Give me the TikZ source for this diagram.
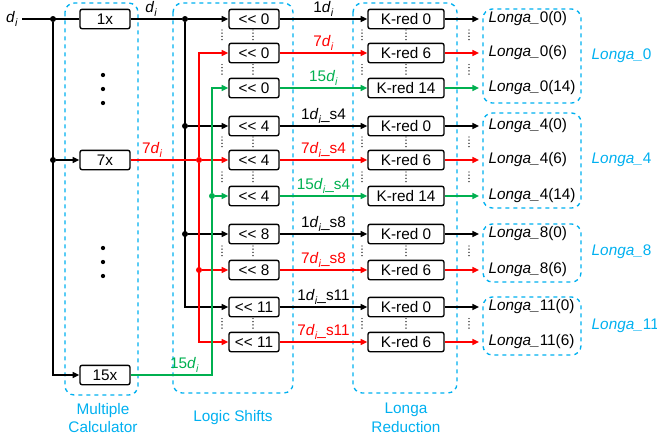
\documentclass[tikz,border=0pt]{standalone}
\usepackage{fontspec}
\setmainfont{Liberation Sans}
\usetikzlibrary{arrows.meta}
\definecolor{grpblue}{HTML}{00B0F0}
\definecolor{grn}{HTML}{00B050}
\newcommand{\di}{\textit{d}\raisebox{-0.5ex}{\fontsize{8}{9}\selectfont\textit{i}}}
\newcommand{\longa}[1]{\textit{Longa\_}#1}

\begin{document}
\begin{tikzpicture}[x=0.75pt,y=-0.75pt,font=\fontsize{11.5}{14}\selectfont,
  wire/.style={line width=1.1pt},
  arr/.style={wire,-{Triangle[length=5pt,width=4.5pt]}},
  mbox/.style={draw,line width=1pt,rounded corners=1.5pt,minimum width=37.5pt,minimum height=14.5pt,inner sep=0pt},
  sbox/.style={mbox},
  kbox/.style={mbox,minimum width=57pt},
  dot/.style={circle,fill,inner sep=0pt,minimum size=4.5pt},
  grp/.style={draw=grpblue,dashed,line width=1pt,rounded corners=7pt},
  grplbl/.style={text=grpblue,align=center},
  outtxt/.style={anchor=west,inner sep=1pt},
  vdot/.style={line width=1.1pt,line cap=round,dash pattern=on 0pt off 2.4pt}]
\useasboundingbox (0,0) rectangle (657,440);

% group frames
\draw[grp] (65,3) rectangle (138,395);
\draw[grp] (173,3) rectangle (293,393);
\draw[grp] (353,3) rectangle (457,393);
\draw[grp] (483,9) rectangle (581,103);
\draw[grp] (483,113) rectangle (581,208);
\draw[grp] (483,224) rectangle (581,282);
\draw[grp] (483,297) rectangle (581,355);
\node[grplbl] (lblmc) at (103,418) {Multiple\\Calculator};
\node[grplbl] (lblls) at (233,418) {Logic Shifts};
\node[grplbl] (lbllr) at (406,418) {Longa\\Reduction};
\node[grplbl,anchor=west] (lbl0) at (587,56) {\longa{0}};
\node[grplbl,anchor=west] (lbl4) at (587,160) {\longa{4}};
\node[grplbl,anchor=west] (lbl8) at (587,252) {\longa{8}};
\node[grplbl,anchor=west] (lbl11) at (587,326) {\longa{11}};

% multiple calculator
\node (din) at (12,19) {\di};
\node[mbox] (m1) at (105,19) {1x};
\node[mbox] (m7) at (105,160) {7x};
\node[mbox] (m15) at (105,375) {15x};
\foreach \yy in {75,89,103,248,262,276} \fill (103,\yy) circle (1.6pt);
\node[dot] (i1) at (53,19) {};
\node[dot] (i2) at (53,160) {};
\draw[wire] (din) -- (m1);
\draw[arr] (i2) -- (m7);
\draw[arr] (i1) |- (m15);

% shift, reduction and outputs
\foreach \nm/\yy/\sh/\kr/\col/\mul/\grp in {a0/19/0/0/black/1/0, a6/53/0/6/red/7/0, a14/88/0/14/grn/15/0,
    b0/126/4/0/black/1/4, b6/160/4/6/red/7/4, b14/196/4/14/grn/15/4,
    c0/234/8/0/black/1/8, c6/270/8/6/red/7/8, d0/307/11/0/black/1/11, d6/342/11/6/red/7/11}{
  \node[sbox] (sh\nm) at (254,\yy) {{<}{<} \sh};
  \node[kbox] (kr\nm) at (406,\yy) {K-red \kr};
  \node[outtxt] (out\nm) at (487,\yy) {\longa{\grp}(\kr)};
  \draw[arr,\col] (sh\nm) -- node[above,inner sep=1pt,text=\col] (lb\nm) {\mul\di\ifnum\sh=0 \else\_s\sh\fi} (kr\nm);
  \draw[arr,\col,shorten >=6pt] (kr\nm) -- (out\nm);
}

% small vertical dots between rows
\foreach \ya/\yb in {19/53,53/88,126/160,160/196,234/270,307/342}{
  \foreach \xx in {222,253,362,406,469}
    \draw[vdot] (\xx,{(\ya+\yb)/2-6}) -- (\xx,{(\ya+\yb)/2+6});
}

% black bus
\node[dot] (k1) at (185,19) {};
\node[dot] (k2) at (185,126) {};
\node[dot] (k3) at (185,234) {};
\draw[wire] (m1) -- node[above,pos=0.4,inner sep=1pt] (lbm1) {\di} (k1);
\draw[arr] (k1) -- (sha0);
\draw[arr] (k1) |- (shd0);
\draw[arr] (k2) -- (shb0);
\draw[arr] (k3) -- (shc0);

% red bus
\node[dot,red] (r1) at (199,160) {};
\node[dot,red] (r2) at (199,270) {};
\draw[wire,red] (m7) -- node[above,pos=0.33,inner sep=1pt] (lbm7) {7\di} (r1);
\draw[arr,red] (r1) -- (shb6);
\draw[arr,red] (r1) |- (sha6);
\draw[arr,red] (r1) |- (shd6);
\draw[arr,red] (r2) -- (shc6);

% green bus
\node[dot,grn] (g1) at (212,196) {};
\draw[wire,grn] (m15) -| node[above,pos=0.33,inner sep=1pt] (lbm15) {15\di} (g1);
\draw[arr,grn] (g1) |- (sha14);
\draw[arr,grn] (g1) -- (shb14);
\end{tikzpicture}
\end{document}
